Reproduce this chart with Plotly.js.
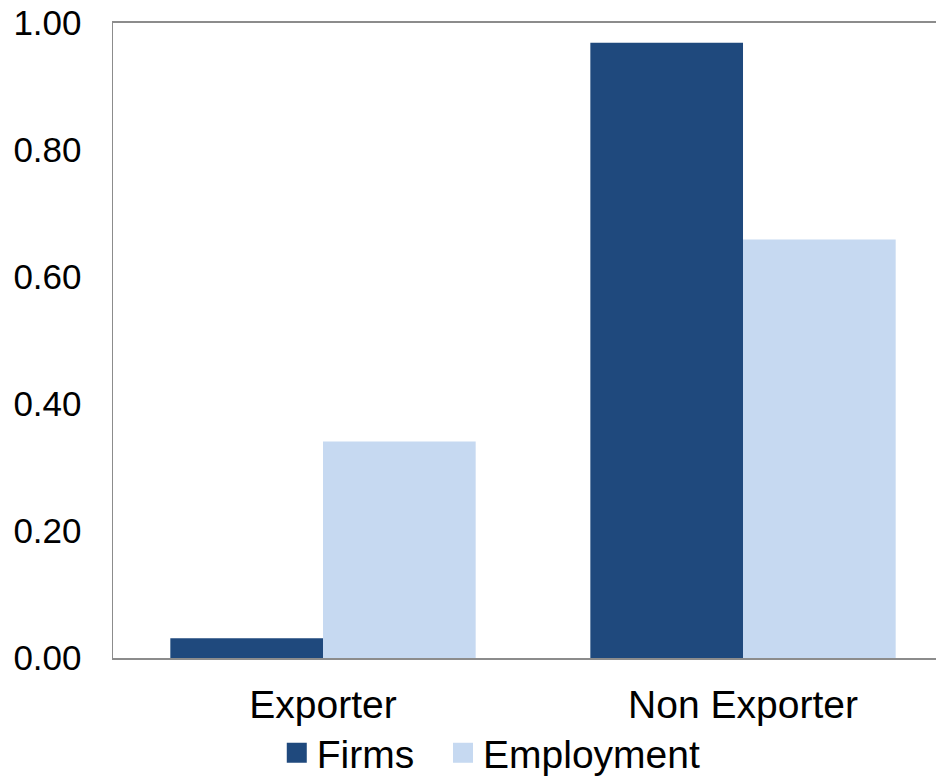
<!DOCTYPE html>
<html>
<head>
<meta charset="utf-8">
<script src="https://cdn.plot.ly/plotly-3.0.1.min.js"></script>
<style>html,body{margin:0;padding:0;background:#fff;}#chart{width:936px;height:777px;}</style>
</head>
<body>
<div id="chart"></div>
<script>
const categories = ["Exporter", "Non Exporter"];
const firms = [0.031, 0.969];
const employment = [0.341, 0.659];
const yTickVals = [0, 0.2, 0.4, 0.6, 0.8, 1.0];
const yTickText = ["0.00", "0.20", "0.40", "0.60", "0.80", "1.00"];

const font = "Liberation Sans, Arial, sans-serif";
const traces = [
  {type: "bar", name: "Firms", x: categories, y: firms, marker: {color: "#1F497D"}, legend: "legend"},
  {type: "bar", name: "Employment", x: categories, y: employment, marker: {color: "#C6D9F1"}, legend: "legend2"}
];
const legendBase = {
  orientation: "h", xanchor: "left", yref: "container", y: 0.031, yanchor: "middle",
  font: {size: 39, family: font, color: "#000"}, bgcolor: "rgba(0,0,0,0)",
  itemclick: false, itemdoubleclick: false
};
const layout = {
  width: 936, height: 777,
  margin: {l: 113, r: 0, t: 23, b: 119, pad: 0},
  paper_bgcolor: "#ffffff", plot_bgcolor: "#ffffff",
  barmode: "group", bargap: 0.273, bargroupgap: 0,
  font: {family: font, color: "#000000"},
  xaxis: {
    type: "category", range: [-0.5, 1.4595], fixedrange: true,
    showline: true, mirror: true, linecolor: "#8c8c8c", linewidth: 2,
    showgrid: false, ticks: "", tickfont: {size: 39, family: font, color: "#000"},
    ticklabelstandoff: 11
  },
  yaxis: {
    range: [0, 1.0], showline: true, mirror: true, linecolor: "#8c8c8c", linewidth: 1.5,
    showgrid: false, zeroline: false, ticks: "",
    tickvals: yTickVals, ticktext: yTickText,
    tickfont: {size: 35, family: font, color: "#000"}, ticklabelstandoff: 23
  },
  showlegend: true,
  legend: Object.assign({}, legendBase, {x: 0.199}),
  legend2: Object.assign({}, legendBase, {x: 0.401})
};
Plotly.newPlot("chart", traces, layout, {displayModeBar: false, staticPlot: true}).then(function () {
  document.querySelectorAll(".legendpoints path").forEach(function (p) {
    p.setAttribute("d", "M10,10H-10V-10H10Z");
  });
});
</script>
</body>
</html>
